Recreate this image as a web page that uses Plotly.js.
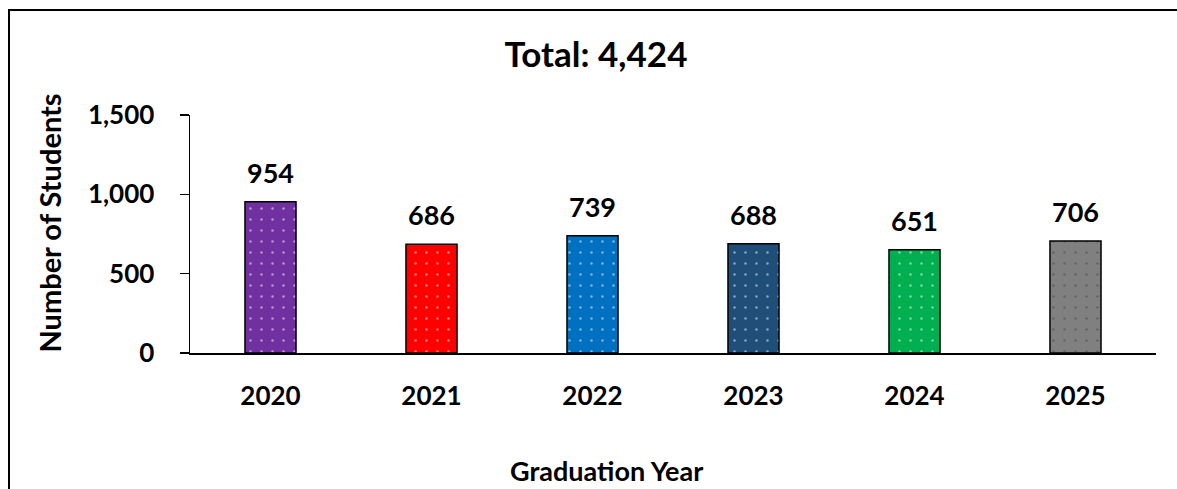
<!DOCTYPE html>
<html>
<head>
<meta charset="utf-8">
<script src="https://cdn.plot.ly/plotly-3.0.1.min.js"></script>
<style>
html,body{margin:0;padding:0;width:1177px;height:489px;overflow:hidden;background:#fff;}
#chart{position:absolute;left:0;top:0;width:1177px;height:489px;}
#frame{position:absolute;left:8px;top:9px;width:1300px;height:700px;border:2px solid #000;pointer-events:none;}
</style>
</head>
<body>
<div id="chart"></div>
<div id="frame"></div>
<script>
const years = ["2020", "2021", "2022", "2023", "2024", "2025"];
const students = [954, 686, 739, 688, 651, 706];
const barColors = ["#7030A0", "#FF0000", "#0070C0", "#1F4E79", "#00B050", "#808080"];
const yTicks = [0, 500, 1000, 1500];
const titleText = "Total: " + students.reduce((a, b) => a + b, 0).toLocaleString("en-US");
const yTitle = "Number of Students";
const xTitle = "Graduation Year";

const FONT = "Lato, 'Open Sans', sans-serif";
const W = 1177, H = 489;
const L = 190, R = 21, T = 114.5, B = 135.5;
const pw = W - L - R, ph = H - T - B;
const px2x = p => (p - L) / pw;
const py2y = p => (H - B - p) / ph;

const trace = {
  type: "bar",
  x: years,
  y: students,
  width: 0.317,
  marker: {
    color: barColors,
    line: {color: "#000", width: 1.5},
    pattern: {shape: ".", fgcolor: "#ffffff", size: 11, solidity: 0.04, fillmode: "overlay"}
  },
  hoverinfo: "x+y"
};

const labelAnns = students.map((v, i) => ({
  x: i, y: v, xref: "x", yref: "y",
  text: "<b>" + v.toLocaleString("en-US") + "</b>",
  showarrow: false, yanchor: "bottom", yshift: 11,
  font: {family: FONT, size: 27, color: "#000"}
}));

const layout = {
  width: W, height: H,
  margin: {l: L, r: R, t: T, b: B, pad: 0},
  paper_bgcolor: "rgba(0,0,0,0)",
  plot_bgcolor: "rgba(0,0,0,0)",
  showlegend: false,
  bargap: 0,
  title: {
    text: "<b>" + titleText + "</b>",
    xref: "container", yref: "container",
    x: 596 / W, y: 1 - 55 / H, xanchor: "center", yanchor: "middle",
    font: {family: FONT, size: 35, color: "#000"}
  },
  xaxis: {
    type: "category",
    range: [-0.5, 5.5],
    showline: true, linecolor: "#000", linewidth: 2,
    ticks: "", showgrid: false, zeroline: false,
    ticklabelstandoff: 19,
    tickfont: {family: FONT, size: 26, color: "#000", weight: "bold"},
    fixedrange: true
  },
  yaxis: {
    range: [0, 1500],
    tickvals: yTicks,
    tickformat: ",",
    showline: true, linecolor: "#000", linewidth: 1.5,
    ticks: "outside", ticklen: 9, tickwidth: 1.5, tickcolor: "#000",
    showgrid: false, zeroline: false,
    ticklabelstandoff: 20,
    tickfont: {family: FONT, size: 26, color: "#000", weight: "bold"},
    fixedrange: true
  },
  annotations: labelAnns.concat([
    {
      text: "<b>" + yTitle + "</b>", textangle: -90,
      xref: "paper", yref: "paper", x: px2x(50), y: py2y(223.5),
      xanchor: "center", yanchor: "middle", showarrow: false,
      font: {family: FONT, size: 29, color: "#000"}
    },
    {
      text: "<b>" + xTitle + "</b>",
      xref: "paper", yref: "paper", x: px2x(606), y: py2y(471),
      xanchor: "center", yanchor: "middle", showarrow: false,
      font: {family: FONT, size: 27, color: "#000"}
    }
  ])
};

Plotly.newPlot("chart", [trace], layout, {displayModeBar: false, staticPlot: true});
</script>
</body>
</html>
